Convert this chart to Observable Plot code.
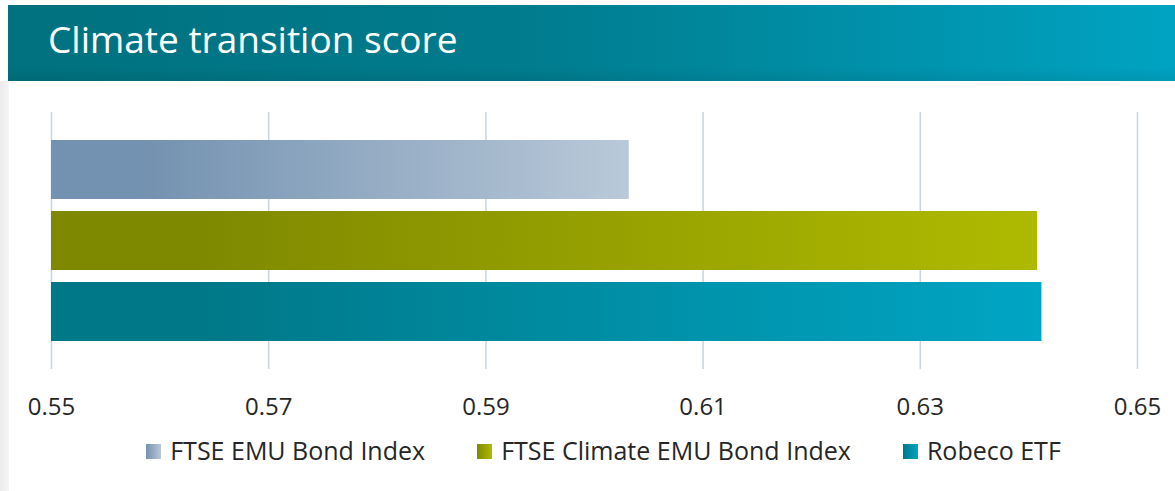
<!DOCTYPE html>
<html><head><meta charset="utf-8">
<script src="https://cdn.jsdelivr.net/npm/d3@7"></script>
<script src="https://cdn.jsdelivr.net/npm/@observablehq/plot@0.6"></script>
<style>
body{margin:0;background:#fff;width:1175px;height:491px;overflow:hidden;position:relative;font-family:"Open Sans",sans-serif;}
#band{position:absolute;left:8px;top:5px;width:1167px;height:76px;background:linear-gradient(to right,#00717f 0%,#007c8e 45%,#00a3c2 100%);}
#band::after{content:"";position:absolute;left:0;right:0;bottom:0;height:14px;background:linear-gradient(to bottom,rgba(0,0,0,0),rgba(0,0,0,0.07));}
#title{position:absolute;left:40px;top:15px;color:#fff;font-size:37px;line-height:37px;white-space:nowrap;}
#strip{position:absolute;left:0;top:81px;width:9px;bottom:0;background:linear-gradient(to right,#ebebeb,#f5f5f5);}
#chart{position:absolute;left:0;top:100px;}
#legend{position:absolute;left:0;width:1175px;top:438px;display:flex;justify-content:center;padding-left:32px;box-sizing:border-box;font-size:25px;line-height:25px;color:#262626;white-space:nowrap;}
.item{display:flex;align-items:center;margin:0 26px;}
.sw{width:15px;height:15px;margin-right:9px;margin-top:2px;}
</style>
</head><body>
<div id="band"><div id="title">Climate transition score</div></div>
<div id="strip"></div>
<div id="chart"></div>
<div id="legend"></div>
<script>
const series = ["FTSE EMU Bond Index", "FTSE Climate EMU Bond Index", "Robeco ETF"];
const scores = [0.6032, 0.6408, 0.6412];
const xTicks = [0.55, 0.57, 0.59, 0.61, 0.63, 0.65];
const gradients = [["#7391b0", "#b9c9d9"], ["#7f8900", "#aeba00"], ["#007888", "#00a5c4"]];

const data = series.map((s, i) => ({series: s, score: scores[i]}));
const fmt = d3.format(".2f");

const plot = Plot.plot({
  width: 1175, height: 330,
  marginLeft: 51, marginRight: 38, marginTop: 12, marginBottom: 61,
  style: {fontFamily: "Open Sans", fontSize: "24px", color: "#262626", background: "transparent"},
  x: {domain: [xTicks[0], xTicks[xTicks.length - 1]]},
  y: {domain: series, paddingInner: 0.176, paddingOuter: 0.394, axis: null},
  color: {domain: series, range: series.map((_, i) => `url(#g${i})`)},
  marks: [
    Plot.gridX(xTicks, {stroke: "#c9d5e2", strokeOpacity: 1, strokeWidth: 1.5}),
    Plot.barX(data, {y: "series", x1: () => xTicks[0], x2: "score", fill: "series"}),
    Plot.axisX(xTicks, {tickSize: 0, tickPadding: 28, tickFormat: fmt, label: null, fontSize: 24})
  ]
});

const defs = d3.select(plot).insert("defs", ":first-child");
gradients.forEach(([a, b], i) => {
  const g = defs.append("linearGradient").attr("id", `g${i}`).attr("x1", 0).attr("x2", 1).attr("y1", 0).attr("y2", 0);
  g.append("stop").attr("offset", 0).attr("stop-color", a);
  g.append("stop").attr("offset", 0.15).attr("stop-color", a);
  g.append("stop").attr("offset", 1).attr("stop-color", b);
});
document.getElementById("chart").appendChild(plot);

const legend = d3.select("#legend");
series.forEach((s, i) => {
  const it = legend.append("div").attr("class", "item");
  it.append("div").attr("class", "sw").style("background", `linear-gradient(to right, ${gradients[i][0]}, ${gradients[i][1]})`);
  it.append("span").text(s);
});
</script>
</body></html>
